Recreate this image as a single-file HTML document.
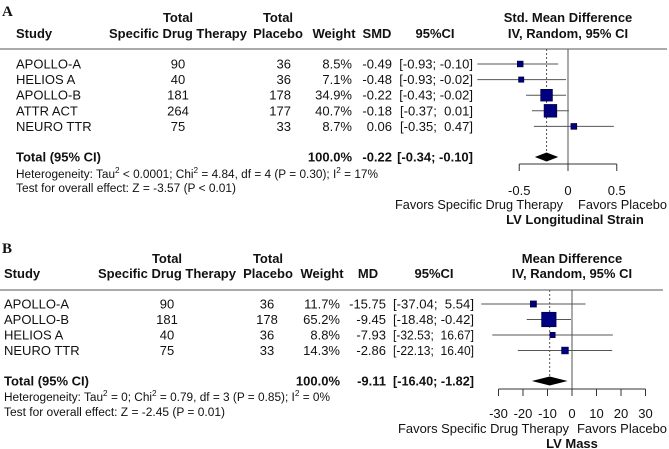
<!DOCTYPE html>
<html><head><meta charset="utf-8"><style>
body{margin:0;background:#fff}
svg{display:block;font-family:"Liberation Sans",Arial,sans-serif;font-size:13px;fill:#111}
.b{font-weight:bold}
.s{font-size:11.5px}
</style></head><body>
<svg id="c" width="669" height="449" viewBox="0 0 669 449"></svg>
<script>
// Panel A data
const studiesA = ["APOLLO-A","HELIOS A","APOLLO-B","ATTR ACT","NEURO TTR"];
const nTreatA = [90,40,181,264,75];
const nPlacA = [36,36,178,177,33];
const weightA = [8.5,7.1,34.9,40.7,8.7];
const estA = [-0.49,-0.48,-0.22,-0.18,0.06];
const lowA = [-0.93,-0.93,-0.43,-0.37,-0.35];
const highA = [-0.10,-0.02,-0.02,0.01,0.47];
const totalA = [-0.22,-0.34,-0.10];
const ticksA = [-0.5,0,0.5];
const tickLabelsA = ["-0.5","0","0.5"];
// Panel B data
const studiesB = ["APOLLO-A","APOLLO-B","HELIOS A","NEURO TTR"];
const nTreatB = [90,181,40,75];
const nPlacB = [36,178,36,33];
const weightB = [11.7,65.2,8.8,14.3];
const estB = [-15.75,-9.45,-7.93,-2.86];
const lowB = [-37.04,-18.48,-32.53,-22.13];
const highB = [5.54,-0.42,16.67,16.40];
const totalB = [-9.11,-16.40,-1.82];
const ticksB = [-30,-20,-10,0,10,20,30];
const tickLabelsB = ["-30","-20","-10","0","10","20","30"];

const svg=document.getElementById('c');
const NS='http://www.w3.org/2000/svg';
function el(tag,attrs,name,parent){const e=document.createElementNS(NS,tag);for(const k in attrs)e.setAttribute(k,attrs[k]);


(parent||svg).appendChild(e);return e;}
function txt(x,y,s,name,anchor,cls,len){const t=el('text',{x:x,y:y,'text-anchor':anchor||'start'},name);if(cls)t.setAttribute('class',cls);if(len){t.setAttribute('textLength',len);t.setAttribute('lengthAdjust','spacingAndGlyphs');}t.textContent=s;return t;}
function f2(v){return v.toFixed(2);}
function ci(l,h){const a=f2(l),b=f2(h);return "["+a+"; "+(h>=0?"\u00a0":"")+b+"]";}

function panel(P){
  el('g',{},P.name);
  txt(P.labelX,P.labelY,P.label,P.name+'-label','start','b').setAttribute('style','font-family:"Liberation Serif",serif;font-size:15px');
  const h1=P.h1,h2=P.h2;
  txt(P.cols.treatH,h1,"Total",'treatment-total-header','middle','b');
  txt(P.cols.treatH2,h2,"Specific Drug Therapy",'treatment-header','middle','b');
  txt(P.cols.placH,h1,"Total",'placebo-total-header','middle','b');
  txt(P.cols.placH,h2,"Placebo",'placebo-header','middle','b');
  txt(P.cols.study,h2,"Study",'study-header','start','b');
  txt(P.cols.wH,h2,"Weight",'weight-header','middle','b');
  txt(P.cols.eH,h2,P.effLabel,'effect-header','middle','b');
  txt(P.cols.ciH,h2,"95%CI",'ci-header','middle','b');
  txt(P.zero,h1,P.plotTitle,'plot-title','middle','b');
  txt(P.zero,h2,"IV, Random, 95% CI",'plot-subtitle','middle','b');
  el('line',{x1:0,x2:P.ruleEnd,y1:P.lineY,y2:P.lineY,stroke:'#777','stroke-width':1.3},'header-rule');
  const xs=v=>P.zero+v*P.scale;
  el('line',{x1:xs(0),x2:xs(0),y1:P.lineY,y2:P.axisY,stroke:'#555','stroke-width':1},'zero-line');
  el('line',{x1:xs(P.total[0]),x2:xs(P.total[0]),y1:P.lineY,y2:P.totY,stroke:'#555','stroke-width':1,'stroke-dasharray':'2,2'},'pooled-effect-line');
  P.studies.forEach((s,i)=>{
    const y=P.row0+i*P.rowH, yb=y+4.5;
    txt(P.cols.study,yb,s,'study-name');
    txt(P.cols.treat,yb,String(P.nT[i]),'treatment-n','middle');
    txt(P.cols.plac,yb,String(P.nP[i]),'placebo-n',P.placAnchor);
    txt(P.cols.w,yb,P.w[i].toFixed(1)+"%",'weight-value','end');
    txt(P.cols.e,yb,f2(P.est[i]),'effect-value','end');
    txt(P.cols.ci,yb,ci(P.low[i],P.high[i]),'ci-value','end',null,P.ciLen);
    el('line',{x1:xs(P.low[i]),x2:xs(P.high[i]),y1:y,y2:y,stroke:'#555','stroke-width':1},'ci-whisker');
    const sz=P.k*Math.sqrt(P.w[i]);
    el('rect',{x:xs(P.est[i])-sz/2,y:y-sz/2,width:sz,height:sz,fill:'#000080',stroke:'#000033','stroke-width':0.6},'effect-square');
  });
  const ty=P.totY, tb=ty+4.5;
  txt(P.cols.study,tb,"Total (95% CI)",'total-label','start','b');
  txt(P.cols.w,tb,"100.0%",'total-weight','end','b');
  txt(P.cols.e,tb,f2(P.total[0]),'total-effect','end','b');
  txt(P.cols.ci,tb,ci(P.total[1],P.total[2]),'total-ci','end','b',P.ciLen);
  el('polygon',{points:[xs(P.total[1])+','+ty,xs(P.total[0])+','+(ty-4.5),xs(P.total[2])+','+ty,xs(P.total[0])+','+(ty+4.5)].join(' '),fill:'#000'},'pooled-diamond');
  const het=txt(P.cols.study,P.hetY,"",'heterogeneity-text','start','s',P.hetLen);
  het.innerHTML=P.het;
  txt(P.cols.study,P.testY,P.test,'overall-effect-test','start','s',P.testLen);
  const a0=xs(P.ticks[0]),a1=xs(P.ticks[P.ticks.length-1]);
  el('line',{x1:a0,x2:a1,y1:P.axisY,y2:P.axisY,stroke:'#333','stroke-width':1},'x-axis');
  P.ticks.forEach((t,i)=>{
    el('line',{x1:xs(t),x2:xs(t),y1:P.axisY,y2:P.axisY+7,stroke:'#333','stroke-width':1},'x-tick');
    txt(xs(t),P.tickY,P.tickLabels[i],'x-tick-label','middle');
  });
  txt(P.fav1,P.favY,"Favors Specific Drug Therapy",'favors-treatment-label','start',null,P.fav1Len);
  txt(P.fav2,P.favY,"Favors Placebo",'favors-placebo-label','start',null,P.fav2Len);
  txt(P.outX,P.outY,P.outcome,'outcome-title','middle','b');
}

panel({name:'panel-a',label:'A',labelX:2,labelY:16,h1:22,h2:38,lineY:49,row0:64,rowH:15.6,totY:157,
  hetY:178,testY:192,axisY:164,tickY:195,favY:209,outY:224,ruleEnd:667,placAnchor:'end',ciLen:null,
  cols:{study:16,treatH:178,treatH2:178,treat:178,placH:278,plac:291,wH:334,w:352,eH:377,e:392,ciH:435,ci:473},
  effLabel:'SMD',plotTitle:'Std. Mean Difference',zero:568,scale:97.5,k:2.0,
  studies:studiesA,nT:nTreatA,nP:nPlacA,w:weightA,est:estA,low:lowA,high:highA,total:totalA,ticks:ticksA,tickLabels:tickLabelsA,
  het:'Heterogeneity: Tau<tspan font-size="8" dy="-5">2</tspan><tspan dy="5"> &lt; 0.0001; Chi</tspan><tspan font-size="8" dy="-5">2</tspan><tspan dy="5"> = 4.84, df = 4 (P = 0.30); I</tspan><tspan font-size="8" dy="-5">2</tspan><tspan dy="5"> = 17%</tspan>',
  hetLen:362,test:'Test for overall effect: Z = -3.57 (P < 0.01)',testLen:220,
  fav1:395,fav1Len:168,fav2:578,fav2Len:89,outX:575,outcome:'LV Longitudinal Strain'});

panel({name:'panel-b',label:'B',labelX:2,labelY:253,h1:263,h2:278,lineY:290,row0:304,rowH:15.5,totY:381,
  hetY:401,testY:416,axisY:389,tickY:418,favY:433,outY:448,ruleEnd:663,placAnchor:'middle',ciLen:81,
  cols:{study:4,treatH:167,treatH2:167,treat:167,placH:268,plac:267,wH:322,w:340,eH:368,e:386,ciH:434,ci:474},
  effLabel:'MD',plotTitle:'Mean Difference',zero:572,scale:2.45,k:1.8,
  studies:studiesB,nT:nTreatB,nP:nPlacB,w:weightB,est:estB,low:lowB,high:highB,total:totalB,ticks:ticksB,tickLabels:tickLabelsB,
  het:'Heterogeneity: Tau<tspan font-size="8" dy="-5">2</tspan><tspan dy="5"> = 0; Chi</tspan><tspan font-size="8" dy="-5">2</tspan><tspan dy="5"> = 0.79, df = 3 (P = 0.85); I</tspan><tspan font-size="8" dy="-5">2</tspan><tspan dy="5"> = 0%</tspan>',
  hetLen:326,test:'Test for overall effect: Z = -2.45 (P = 0.01)',testLen:221,
  fav1:398,fav1Len:171,fav2:577,fav2Len:90,outX:572,outcome:'LV Mass'});
</script>
</body></html>
